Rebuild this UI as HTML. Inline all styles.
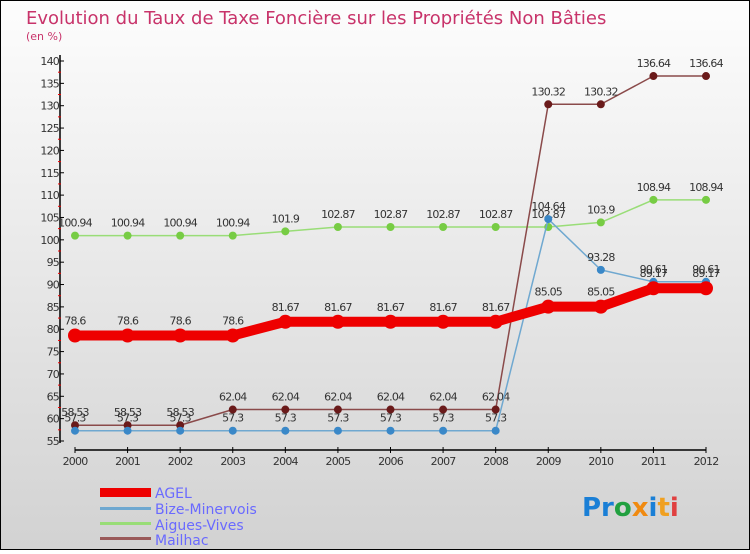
<!DOCTYPE html>
<html><head><meta charset="utf-8">
<style>
html,body{margin:0;padding:0}
body{width:750px;height:550px;overflow:hidden;font-family:"DejaVu Sans","Liberation Sans",sans-serif}
</style></head>
<body>
<svg id="chart" width="750" height="550" xmlns="http://www.w3.org/2000/svg">
<defs>
<linearGradient id="bg" x1="0" y1="0" x2="0" y2="1">
<stop offset="0" stop-color="#fdfdfd"/><stop offset="1" stop-color="#d2d2d2"/>
</linearGradient>
</defs>
<rect x="0.5" y="0.5" width="749" height="549" fill="url(#bg)" stroke="#000"/>
<text x="26" y="24" font-size="18" fill="#c8336a" font-family="DejaVu Sans">Evolution du Taux de Taxe Foncière sur les Propriétés Non Bâties</text>
<text x="26" y="40" font-size="11" fill="#c8336a">(en %)</text>
<g id="axes"></g>
<g id="series"></g>
<g id="legend">
<rect x="100" y="488" width="51" height="9" fill="#e00"/>
<text x="155" y="498" font-size="14" fill="#6a6aff">AGEL</text>
<rect x="100" y="507" width="51" height="3" fill="#6fa8d0"/>
<text x="155" y="514" font-size="14" fill="#6a6aff">Bize-Minervois</text>
<rect x="100" y="522" width="51" height="3" fill="#99dd77"/>
<text x="155" y="530" font-size="14" fill="#6a6aff">Aigues-Vives</text>
<rect x="100" y="537" width="51" height="3" fill="#9a5a5a"/>
<text x="155" y="545" font-size="14" fill="#6a6aff">Mailhac</text>
</g>
<text x="582" y="516" font-size="26" font-weight="bold" font-family="DejaVu Sans"><tspan fill="#1a7fd6">Pr</tspan><tspan fill="#22a040">o</tspan><tspan fill="#f08a10">x</tspan><tspan fill="#1a7fd6">i</tspan><tspan fill="#f0a020">t</tspan><tspan fill="#e04040">i</tspan></text>
</svg>
<script>
const years=[2000,2001,2002,2003,2004,2005,2006,2007,2008,2009,2010,2011,2012];
const yTicks=[55,60,65,70,75,80,85,90,95,100,105,110,115,120,125,130,135,140];
const agel=[78.6,78.6,78.6,78.6,81.67,81.67,81.67,81.67,81.67,85.05,85.05,89.17,89.17];
const bize=[57.3,57.3,57.3,57.3,57.3,57.3,57.3,57.3,57.3,104.64,93.28,90.61,90.61];
const aigues=[100.94,100.94,100.94,100.94,101.9,102.87,102.87,102.87,102.87,102.87,103.9,108.94,108.94];
const mailhac=[58.53,58.53,58.53,62.04,62.04,62.04,62.04,62.04,62.04,130.32,130.32,136.64,136.64];
const NS="http://www.w3.org/2000/svg";
const x=i=>75+i*(706-75)/12;
const y=v=>441-(v-55)*(441-61)/85;
function mk(tag,attrs,parent,txt){const e=document.createElementNS(NS,tag);for(const k in attrs)e.setAttribute(k,attrs[k]);if(txt!==undefined)e.textContent=txt;parent.appendChild(e);return e;}
const ax=document.getElementById('axes');
let e=mk('line',{x1:60,y1:55,x2:60,y2:443,stroke:'#000','stroke-width':1.5},ax);

yTicks.forEach(v=>{
 let t=mk('line',{x1:60,x2:64,y1:y(v),y2:y(v),stroke:'#000'},ax);
 
 if(v<140){let m=mk('line',{x1:58,x2:61,y1:y(v+2.5),y2:y(v+2.5),stroke:'#e00'},ax);
 }
 let l=mk('text',{x:59,y:y(v)+4,'font-size':11,'text-anchor':'end',fill:'#333','letter-spacing':'-0.8'},ax,String(v));
 
});
e=mk('line',{x1:75,y1:450,x2:706,y2:450,stroke:'#000','stroke-width':1.5},ax);

years.forEach((yr,i)=>{
 let t=mk('line',{x1:x(i),x2:x(i),y1:447,y2:453,stroke:'#000'},ax);
 
 let l=mk('text',{x:x(i),y:465,'font-size':11,'text-anchor':'middle',fill:'#333','letter-spacing':'-0.8'},ax,String(yr));
 
});
const sg=document.getElementById('series');
function series(name,vals,line,dot,w,r,labelOff){
 const g=mk('g',{},sg);
 
 let p=mk('polyline',{points:vals.map((v,i)=>x(i)+','+y(v)).join(' '),fill:'none',stroke:line,'stroke-width':w,'stroke-linejoin':'round'},g);
 
 vals.forEach((v,i)=>{
  let c=mk('circle',{cx:x(i),cy:y(v),r:r,fill:dot},g);
  
  let t=mk('text',{x:x(i),y:y(v)-labelOff,'font-size':11,'text-anchor':'middle',fill:'#333','letter-spacing':'-0.8'},g,String(v));
  
 });
}
series('aigues',aigues,'#99dd77','#77cc44',1.5,4,9);
series('mailhac',mailhac,'#8a4a4a','#6a1a1a',1.5,4,9);
series('bize',bize,'#6fa8d0','#3a88c8',1.5,4,9);
series('agel',agel,'#ee0000','#ee0000',10,7,11);
</script>
</body></html>
